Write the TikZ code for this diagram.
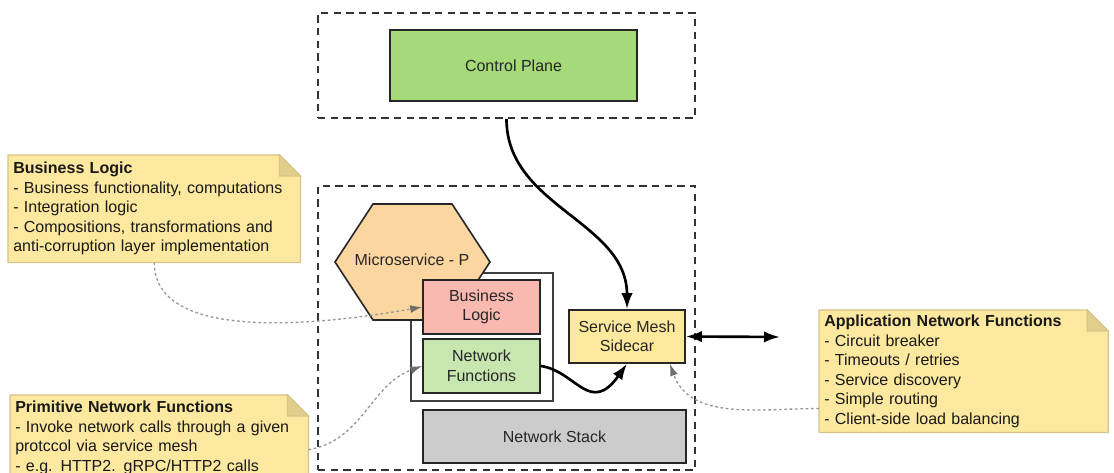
\documentclass[tikz,border=0pt]{standalone}
\usepackage{fontspec}
\setmainfont{Liberation Sans}
\usepackage{xcolor}
\usetikzlibrary{arrows.meta}
\usetikzlibrary{calc, fit, backgrounds, math}
\definecolor{cpgreen}{RGB}{165,217,122}
\definecolor{msorange}{RGB}{252,214,160}
\definecolor{blpink}{RGB}{250,185,176}
\definecolor{nfgreen}{RGB}{200,230,176}
\definecolor{scyellow}{RGB}{253,233,158}
\definecolor{nsgray}{RGB}{204,204,204}
\definecolor{noteyellow}{RGB}{253,232,160}
\definecolor{notetan}{RGB}{216,196,136}
\definecolor{foldtan}{RGB}{226,206,140}
\definecolor{hintgray}{RGB}{150,150,150}
\definecolor{hintdark}{RGB}{110,110,110}

\begin{document}
\begin{tikzpicture}[x=0.75pt, y=-0.75pt, font=\fontsize{12}{14.6}\selectfont,
  zone/.style={draw=black!80, line width=1.4pt, dash pattern=on 5.5pt off 4pt, inner sep=0pt},
  box/.style={draw=black!85, line width=1.2pt, inner sep=0pt, align=center, text=black!85},
  notetext/.style={anchor=north west, align=left, inner xsep=3.75pt, inner ysep=0pt, text=black!90},
  paper/.style={fill=noteyellow, draw=notetan, line width=0.9pt},
  fold/.style={fill=foldtan, draw=notetan, line width=0.9pt},
  flow/.style={line width=2pt, -{Latex[length=12pt, width=8.5pt]}},
  hint/.style={draw=hintgray, line width=1pt, dash pattern=on 2pt off 2pt, -{Latex[length=9pt, width=6pt, color=hintdark]}}]
\tikzmath{
\f=21;
}
\useasboundingbox (0,0) rectangle (1114,473);

% zones
\node (cpzone) [zone, fit={(318,13) (695,118)}] {};
\node (mszone) [zone, fit={(318,186) (695,470)}] {};

\node (cp) [box, fill=cpgreen, minimum width=185.25pt, minimum height=53.25pt] at (513.5,65.5) {Control Plane};

% microservice
\node (ctr) [draw=black!75, line width=1.1pt, inner sep=0pt, fit={(411,273) (553,401)}] {};
\draw[fill=msorange, draw=black!85, line width=1.2pt] (335,262) -- (373,204) -- (452,204) -- (490,262) -- (452,320) -- (373,320) -- cycle;
\node (ms) [text=black!85] at (412,260) {Microservice - P};
\node (bl) [box, fill=blpink, minimum width=87.75pt, minimum height=40.5pt] at (481.5,307) {Business\\Logic};
\node (nf) [box, fill=nfgreen, minimum width=87.75pt, minimum height=40.5pt] at (481.5,366) {Network\\Functions};
\node (sc) [box, fill=scyellow, minimum width=87pt, minimum height=39.75pt] at (627,336.5) {Service Mesh\\Sidecar};
\node (ns) [box, fill=nsgray, minimum width=197.25pt, minimum height=39.75pt] at (554.5,436.5) {Network Stack};

% notes
\node (bln) [notetext, text width=211.5pt, minimum height=80.25pt] at (8,155) {\textbf{Business Logic}\\- Business functionality, computations\\- Integration logic\\- Compositions, transformations and\\anti-corruption layer implementation};
\node (pnn) [notetext, text width=216pt, minimum height=63.75pt] at (10,395) {\textbf{Primitive Network Functions}\\- Invoke network calls through a given\\protccol via service mesh\\- e.g. HTTP2. gRPC/HTTP2 calls};
\node (ann) [notetext, text width=209pt, minimum height=91.5pt] at (819,310) {\textbf{Application Network Functions}\\- Circuit breaker\\- Timeouts / retries\\- Service discovery\\- Simple routing\\- Client-side load balancing};

\begin{scope}[on background layer]
\foreach \n in {bln,pnn,ann} {
  \filldraw[paper] (\n.south west) -- (\n.north west) -- ($(\n.north east)+(-\f,0)$) -- ($(\n.north east)+(0,\f)$) -- (\n.south east) -- cycle;
  \filldraw[fold] ($(\n.north east)+(-\f,0)$) -- ($(\n.north east)+(-\f,\f)$) -- ($(\n.north east)+(0,\f)$) -- cycle;
}
\end{scope}

% connectors
\draw[flow] (cpzone.south) to[out=-90, in=90] (sc.north);
\draw[flow] (nf.east) .. controls +(35,5) and +(-37,52) .. (sc.south);
\coordinate (edge) at (780,337);
\draw[line width=2pt, {Latex[length=12pt, width=8.5pt]}-{Latex[length=12pt, width=8.5pt]}] (sc.east) -- (edge);

\coordinate (pnout) at ($(pnn.east)+(0,12)$);
\coordinate (anout) at ($(ann.south west)+(0,-24)$);
\coordinate (scin) at ($(sc.south east)+(-16,0)$);
\draw[hint] (bln.south) to[out=-90, in=190, looseness=0.8] (bl.west);
\draw[hint] (pnout) to[out=10, in=200] (nf.west);
\draw[hint] (anout) to[out=180, in=-70] (scin);

\end{tikzpicture}
\end{document}
